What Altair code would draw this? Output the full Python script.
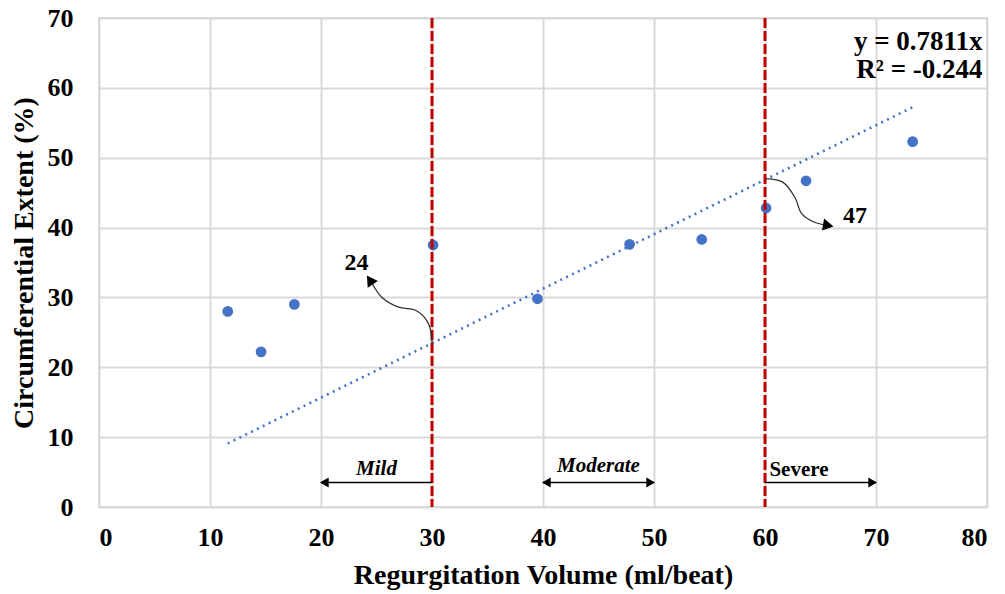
import altair as alt
import pandas as pd

# ---- data ----
reg_volume = [11.6, 14.6, 17.6, 30.1, 39.5, 47.8, 54.3, 60.1, 63.7, 73.3]
circ_extent = [28.0, 22.2, 29.0, 37.5, 29.8, 37.6, 38.3, 42.8, 46.7, 52.3]

trend_x = [11.6, 73.4]
trend_y = [9.1, 57.3]

threshold_x = [30, 60]

# curved annotation arrows (control points)
curve_group = ["a24"] * 6 + ["a47"] * 6
curve_order = [0, 1, 2, 3, 4, 5] * 2
curve_x = [30.0, 29.7, 28.6, 27.0, 25.5, 24.6, 60.1, 61.6, 62.7, 63.3, 64.4, 65.4]
curve_y = [23.5, 26.2, 28.1, 28.6, 30.0, 32.0, 47.0, 46.5, 44.3, 42.0, 40.8, 40.4]

# arrow heads
head_x = [24.4, 65.7, 20.3, 40.3, 49.7, 69.7]
head_y = [32.5, 40.3, 3.5, 3.5, 3.5, 3.5]
head_angle = [326, 100, 270, 270, 90, 90]
head_size = [150, 150, 100, 100, 100, 100]

# range arrows at bottom
range_x1 = [20, 40, 60]
range_x2 = [30, 50, 70]
range_y = [3.5, 3.5, 3.5]

italic_labels = ["Mild", "Moderate"]
italic_label_x = [25.0, 45.0]
italic_label_y = [5.4, 5.8]

severe_label = ["Severe"]
severe_label_x = [60.4]
severe_label_y = [5.3]

value_labels = ["24", "47"]
value_label_x = [23.2, 68.1]
value_label_y = [35.0, 41.7]

eq_lines = ["y = 0.7811x", "R² = -0.244"]
eq_x = [79.6, 79.6]
eq_y = [66.6, 62.5]

FONT = "Liberation Serif"
BLUE = "#4472c4"
RED = "#c00000"

xs = alt.Scale(domain=[0, 80], nice=False)
ys = alt.Scale(domain=[0, 70], nice=False)

pts = pd.DataFrame({"x": reg_volume, "y": circ_extent})
trend = pd.DataFrame({"x": trend_x, "y": trend_y})
vl = pd.DataFrame({"x": threshold_x})
curves = pd.DataFrame({"g": curve_group, "o": curve_order, "x": curve_x, "y": curve_y})
heads = pd.DataFrame({"x": head_x, "y": head_y, "a": head_angle, "s": head_size})
ranges = pd.DataFrame({"x": range_x1, "x2": range_x2, "y": range_y})
ilab = pd.DataFrame({"t": italic_labels, "x": italic_label_x, "y": italic_label_y})
slab = pd.DataFrame({"t": severe_label, "x": severe_label_x, "y": severe_label_y})
vlab = pd.DataFrame({"t": value_labels, "x": value_label_x, "y": value_label_y})
eq = pd.DataFrame({"t": eq_lines, "x": eq_x, "y": eq_y})

xaxis = alt.Axis(values=list(range(0, 81, 10)), title="Regurgitation Volume (ml/beat)",
                 grid=True, ticks=False, domain=False, labelPadding=17, titlePadding=11)
yaxis = alt.Axis(values=list(range(0, 71, 10)), title="Circumferential Extent (%)",
                 grid=True, ticks=False, domain=False, labelPadding=26, titlePadding=9)

base_pts = alt.Chart(pts).mark_circle(size=115, color=BLUE, opacity=1).encode(
    x=alt.X("x:Q", scale=xs, axis=xaxis),
    y=alt.Y("y:Q", scale=ys, axis=yaxis),
)

trend_line = alt.Chart(trend).mark_line(color=BLUE, strokeWidth=2.6, strokeDash=[2, 4.5]).encode(
    x=alt.X("x:Q", scale=xs), y=alt.Y("y:Q", scale=ys)
)

vlines = alt.Chart(vl).mark_rule(color=RED, strokeWidth=3, strokeDash=[10, 3]).encode(
    x=alt.X("x:Q", scale=xs)
)

curve_lines = alt.Chart(curves).mark_line(color="#333333", strokeWidth=1.3, interpolate="catmull-rom").encode(
    x=alt.X("x:Q", scale=xs), y=alt.Y("y:Q", scale=ys), detail="g:N", order="o:Q"
)

range_rules = alt.Chart(ranges).mark_rule(color="black", strokeWidth=1.5).encode(
    x=alt.X("x:Q", scale=xs), x2="x2:Q", y=alt.Y("y:Q", scale=ys)
)

arrow_heads = alt.Chart(heads).mark_point(shape="triangle-up", filled=True, color="black", opacity=1).encode(
    x=alt.X("x:Q", scale=xs), y=alt.Y("y:Q", scale=ys),
    angle=alt.Angle("a:Q", scale=None), size=alt.Size("s:Q", scale=None)
)

italic_text = alt.Chart(ilab).mark_text(font=FONT, fontSize=21, fontWeight="bold", fontStyle="italic",
                                        align="center", baseline="middle").encode(
    x=alt.X("x:Q", scale=xs), y=alt.Y("y:Q", scale=ys), text="t:N"
)
severe_text = alt.Chart(slab).mark_text(font=FONT, fontSize=21, fontWeight="bold",
                                        align="left", baseline="middle").encode(
    x=alt.X("x:Q", scale=xs), y=alt.Y("y:Q", scale=ys), text="t:N"
)

val_text = alt.Chart(vlab).mark_text(font=FONT, fontSize=24, fontWeight="bold", align="center", baseline="middle").encode(
    x=alt.X("x:Q", scale=xs), y=alt.Y("y:Q", scale=ys), text="t:N"
)

eq_text = alt.Chart(eq).mark_text(font=FONT, fontSize=27, fontWeight="bold", align="right", baseline="middle").encode(
    x=alt.X("x:Q", scale=xs), y=alt.Y("y:Q", scale=ys), text="t:N"
)

chart = alt.layer(
    base_pts, trend_line, vlines, curve_lines, range_rules, arrow_heads,
    italic_text, severe_text, val_text, eq_text
).properties(
    width=888, height=489,
    background="white",
    autosize=alt.AutoSizeParams(type="none"),
    padding={"left": 91, "top": 10, "right": 10, "bottom": 84},
).configure_view(
    stroke="#d9d9d9", strokeWidth=2
).configure_axis(
    gridColor="#d9d9d9", gridWidth=2,
    labelFont=FONT, labelFontSize=26, labelFontWeight="bold", labelColor="black",
    titleFont=FONT, titleFontSize=28, titleFontWeight="bold", titleColor="black",
)

chart.save("out.html", embed_options={"renderer": "svg", "actions": False})
